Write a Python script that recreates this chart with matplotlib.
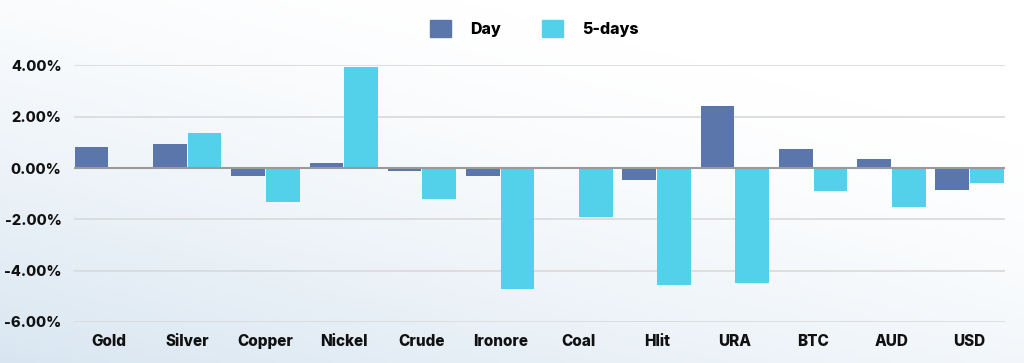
import numpy as np
import matplotlib.pyplot as plt
from matplotlib.patches import Patch

assets = ["Gold", "Silver", "Copper", "Nickel", "Crude", "Ironore",
          "Coal", "Hlit", "URA", "BTC", "AUD", "USD"]
day = [0.81, 0.94, -0.32, 0.18, -0.11, -0.29, 0.0, -0.45, 2.43, 0.73, 0.36, -0.84]
five_days = [0.02, 1.36, -1.33, 3.96, -1.20, -4.72, -1.89, -4.55, -4.47, -0.91, -1.52, -0.57]
yticks = [-6, -4, -2, 0, 2, 4]

day_color = "#5A76AA"
five_color = "#53D0EA"

plt.rcParams['font.family'] = ['Inter', 'DejaVu Sans']
plt.rcParams['font.weight'] = 'heavy'

fig = plt.figure(figsize=(10.24, 3.63), dpi=100)

# soft background gradient, light blue bottom-left to white top-right
bg = fig.add_axes([0, 0, 1, 1], zorder=-10)
xx, yy = np.meshgrid(np.linspace(0, 1, 200), np.linspace(0, 1, 80))
t = np.clip(1.0 - (0.55 * xx + 0.75 * yy), 0, 1) ** 1.4
c0 = np.array([1.0, 1.0, 1.0])
c1 = np.array([0xD9, 0xE6, 0xF1]) / 255
img = c0 + (c1 - c0) * t[..., None]
bg.imshow(img, aspect='auto', origin='lower', extent=[0, 1, 0, 1])
bg.axis('off')

ax = fig.add_axes([0.0723, 0.113, 0.9087, 0.7066])
ax.patch.set_alpha(0)

x = np.arange(len(assets))
w = 0.43
ax.bar(x - 0.222, day, width=w, color=day_color, zorder=3)
ax.bar(x + 0.222, five_days, width=w, color=five_color, zorder=3)

ax.set_xlim(-0.447, len(assets) - 1 + 0.447)
ax.set_ylim(-6, 4)
ax.set_yticks(yticks)
ax.set_yticklabels([f"{v:.2f}%" for v in yticks])
ax.set_xticks(x)
ax.set_xticklabels(assets)
ax.grid(axis='y', color='#d9d9d9', linewidth=1.2, zorder=0)
ax.axhline(0, color='#9a9a9a', linewidth=1.5, zorder=4)
for s in ax.spines.values():
    s.set_visible(False)
ax.tick_params(axis='both', length=0, labelsize=11, colors='#111111')
ax.tick_params(axis='y', labelsize=10.5, pad=9)
ax.tick_params(axis='x', pad=9)
ax.set_axisbelow(True)

handles = [Patch(color=day_color, label="Day"), Patch(color=five_color, label="5-days")]
fig.legend(handles=handles, loc='upper center', bbox_to_anchor=(0.522, 0.985), ncol=2,
           frameon=False, handlelength=1.3, handleheight=1.3, handletextpad=1.2,
           columnspacing=2.6, fontsize=11.5)

fig.savefig("out.png", dpi=100)
